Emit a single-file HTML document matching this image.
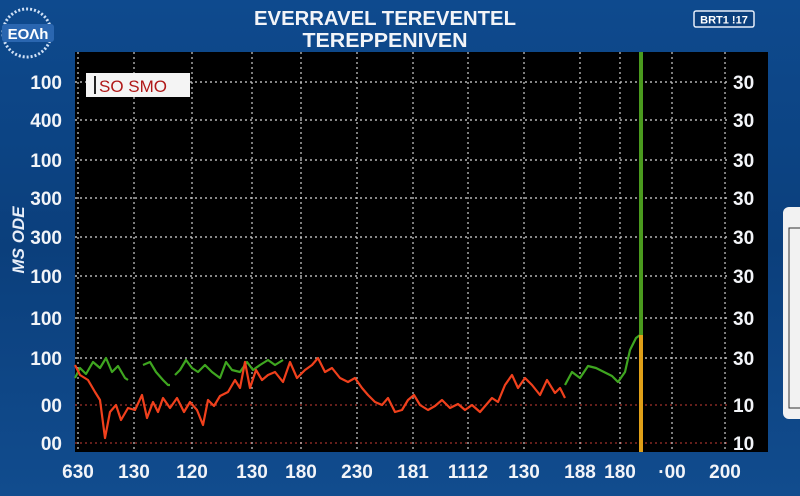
<!DOCTYPE html>
<html><head><meta charset="utf-8"><style>
html,body{margin:0;padding:0;width:800px;height:496px;overflow:hidden;background:#0d3f7a;font-family:"Liberation Sans",sans-serif}
svg{display:block}
</style></head><body>
<svg width="800" height="496" viewBox="0 0 800 496" xmlns="http://www.w3.org/2000/svg">
<defs>
<linearGradient id="bg" x1="0" y1="0" x2="0" y2="1"><stop offset="0" stop-color="#0e4a8e"/><stop offset="0.5" stop-color="#0b3f7c"/><stop offset="1" stop-color="#114c8e"/></linearGradient>
</defs>
<rect width="800" height="496" fill="url(#bg)"/>
<g>
<circle cx="27" cy="33" r="24" fill="none" stroke="#cfe0f5" stroke-width="3" stroke-dasharray="2 2"/>
<rect x="2" y="24" width="52" height="18" rx="3" fill="#2a66b0"/>
<text x="28" y="39" font-size="15" font-weight="bold" fill="#fff" text-anchor="middle">EOΛh</text>
</g>
<text x="385" y="25" font-size="20" font-weight="bold" fill="#f2f4f8" text-anchor="middle" textLength="262" lengthAdjust="spacingAndGlyphs">EVERRAVEL TEREVENTEL</text>
<text x="385" y="47" font-size="20" font-weight="bold" fill="#f2f4f8" text-anchor="middle" textLength="165" lengthAdjust="spacingAndGlyphs">TEREPPENIVEN</text>
<g><rect x="694" y="11" width="60" height="16" rx="2" fill="#0b3f7c" stroke="#e6eefa" stroke-width="1.5"/>
<text x="724" y="23.5" font-size="11" font-weight="bold" fill="#fff" text-anchor="middle">BRT1 !17</text></g>
<rect x="75" y="52" width="693" height="400" fill="#000"/>
<g id="grid"></g>
<g id="series"></g>
<g><rect x="86" y="73" width="104" height="24" fill="#f4f4f4"/><rect x="94" y="76" width="2" height="18" fill="#222"/>
<text x="99" y="92" font-size="17" fill="#b01818">SO SMO</text></g>
<text transform="translate(24,240) rotate(-90)" font-size="17" font-weight="bold" font-style="italic" fill="#e8eef8" text-anchor="middle">MS ODE</text>
<g><rect x="783" y="207" width="30" height="212" rx="6" fill="#f2f2f2"/>
<rect x="789" y="228" width="14" height="180" fill="none" stroke="#333" stroke-width="1"/></g>
<g id="ticks"></g>
</svg>
<script>
const yTickVals=[92.5,83,73,63.5,53.75,44,33.5,23.5,11.75,2.25];
const yLeftLabels=["100","400","100","300","300","100","100","100","00","00"];
const yRightLabels=["30","30","30","30","30","30","30","30","10","10"];
const xTickVals=[0.6,11.8,23.4,35.4,45.2,56.4,67.6,78.6,89.8,101,109,119.4,130];
const xTickLabels=["630","130","120","130","180","230","181","1112","130","188","180","·00","200"];
const redT=[0,1,2.6,4,5,6,7,8.2,9.2,10.6,12,13.4,14.4,15.6,16.6,17.6,19,20.4,21.8,23,24.4,25.6,26.6,27.8,29,30.6,32,33,34,35,36.2,37.4,38.6,40,41.6,43,44.4,46,47.4,48.6,50,51.4,53,54.6,56,57.4,58.6,60,61.4,62.6,64,65.4,66.6,67.8,69,70.6,72,73.4,75,76.6,78,79.4,81,82.2,83.4,84.6,86,87.4,88.6,90,91.4,93,94.4,96,97,98];
const redV=[21.75,19.25,18,15,13,3.5,10,11.75,8,11,10.5,14.25,8.5,12.5,10,13.5,11,13.5,10,12.5,10.5,6.75,13,11.5,14,15,18,16,22.5,16,20.5,18,19.25,20,17.5,22.5,18.5,20.5,21.75,23.5,20,21,18.5,17.5,18.5,16,14.25,12.5,11.75,13.5,10,10.5,13,14.25,11.75,10.5,11.5,13,11,12,10.5,11.75,10,11.75,13.5,12.5,16.75,19.25,16,18.5,16.75,14.25,18,14.75,16,13.5];
const green1T=[0,1,2.2,3.6,5,6.2,7.4,8.6,10,10.6];
const green1V=[18.5,21,19.5,22.5,21,23.5,20,21.5,18.5,18];
const green2T=[13.6,15,16.2,17.6,18.6,19];
const green2V=[21.75,22.5,20,18,16.75,16.75];
const green3T=[20,21,22.2,23.4,24.6,26,27.4,29,30.2,31.4,33,34.4,35.6,37,38.6,40,41.6];
const green3V=[19.25,20.5,23,21,20,21.75,20,18.5,22.5,20.5,20,22.5,20.5,21.75,23,21.75,23];
const green4T=[98,99.4,101,102.6,104.2,105.8,107.4,108.6,110,111,112.2,113];
const green4V=[16.75,20,18.5,21.5,21,20,19,17.5,20,25.5,28.5,29.25];
const barT=[113.2];
const barTotal=[100];
const barLower=[29.25];

const NS="http://www.w3.org/2000/svg";
const X0=75,X1=768,Y0=452,Y1=52,TMAX=138.6;
function xs(t){return X0+(t/TMAX)*(X1-X0);}
function ys(v){return Y0-(v/100)*(Y0-Y1);}
function mk(tag,attrs,parent){const e=document.createElementNS(NS,tag);for(const k in attrs)e.setAttribute(k,attrs[k]);parent.appendChild(e);return e;}
const grid=document.getElementById('grid'),ticks=document.getElementById('ticks'),ser=document.getElementById('series');
yTickVals.forEach((v,i)=>{
 const red=i>=8;
 const l=mk('line',{x1:X0,x2:X1-40,y1:ys(v),y2:ys(v),stroke:red?'#a0302a':'#d8d8d8','stroke-width':1.3,'stroke-dasharray':'2 3'},grid);
 
 
 const a=mk('text',{x:62,y:ys(v)+7,'font-size':19,'font-weight':'bold',fill:'#f2f4f8','text-anchor':'end'},ticks);
 a.textContent=yLeftLabels[i];
 
 
 const b=mk('text',{x:733,y:ys(v)+7,'font-size':19,'font-weight':'bold',fill:'#f2f4f8'},ticks);
 b.textContent=yRightLabels[i];
 
 
});
xTickVals.forEach((t,i)=>{
 const l=mk('line',{x1:xs(t),x2:xs(t),y1:Y1,y2:Y0,stroke:'#cfcfcf','stroke-width':1.2,'stroke-dasharray':'2 3'},grid);
 
 
 const a=mk('text',{x:xs(t),y:478,'font-size':19,'font-weight':'bold',fill:'#f2f4f8','text-anchor':'middle'},ticks);
 a.textContent=xTickLabels[i];
 
 
});
function line(T,V,color,name){
 const d=T.map((t,i)=>(i?'L':'M')+xs(t).toFixed(1)+','+ys(V[i]).toFixed(1)).join('');
 const p=mk('path',{d:d,fill:'none',stroke:color,'stroke-width':2.2,'stroke-linejoin':'round'},ser);
 
 
}
line(green1T,green1V,'#3fa620','green-series-segment-1');
line(green2T,green2V,'#3fa620','green-series-segment-2');
line(green3T,green3V,'#3fa620','green-series-segment-3');
line(green4T,green4V,'#3fa620','green-series-segment-4');
line(redT,redV,'#f0401c','red-series');
barT.forEach((t,i)=>{
 const g=mk('rect',{x:xs(t)-2,y:ys(barTotal[i]),width:4,height:ys(barLower[i])-ys(barTotal[i]),fill:'#4a9a1e'},ser);
 
 
 const o=mk('rect',{x:xs(t)-2,y:ys(barLower[i]),width:4,height:Y0-ys(barLower[i]),fill:'#e0a018'},ser);
 
 
});
</script>
</body></html>
